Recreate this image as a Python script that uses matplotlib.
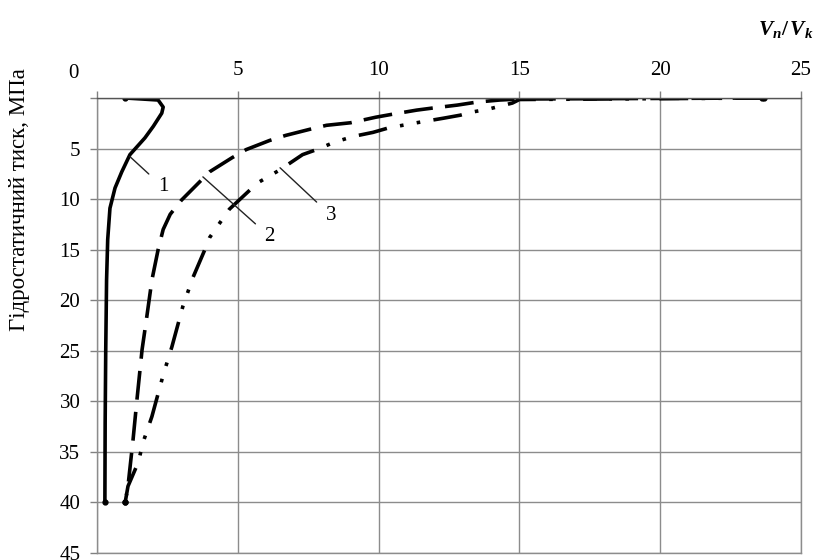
import matplotlib
matplotlib.use('Agg')
from matplotlib import pyplot as plt

plt.rcParams['font.family'] = ['Liberation Serif', 'DejaVu Serif']
plt.rcParams['mathtext.fontset'] = 'custom'
plt.rcParams['mathtext.it'] = 'Liberation Serif:italic:bold'
plt.rcParams['mathtext.rm'] = 'Liberation Serif:bold'

# curve 1 (solid)
v1 = [1.0, 1.6, 2.17, 2.35, 2.3, 2.0, 1.7, 1.17, 0.88, 0.64, 0.46, 0.38, 0.34, 0.31, 0.29, 0.28]
p1 = [0.0, 0.1, 0.2, 0.9, 1.5, 2.8, 3.95, 5.6, 7.3, 8.9, 10.9, 14, 18, 25, 32, 40]

# curve 2 (dashed)
v2 = [23.6, 15.0, 14.3, 13.5, 12.8, 11.9, 11.35, 10.5, 9.9, 9.0, 8.15, 7.55, 6.7, 6.13,
      5.3, 4.8, 4.0, 3.0, 2.6, 2.35, 2.17, 1.95, 1.77, 1.6, 1.42, 1.28, 1.1, 1.0]
p2 = [0.0, 0.1, 0.2, 0.4, 0.7, 1.0, 1.2, 1.6, 1.9, 2.45, 2.7, 3.1, 3.7, 4.2,
      5.1, 5.9, 7.3, 10.1, 11.5, 13, 15, 18, 21.6, 24.9, 29.8, 33.8, 38.4, 40]

# curve 3 (dash-dot-dot)
v3 = [23.7, 15.0, 14.75, 13.9, 13.3, 12.9, 12.3, 11.45, 10.85, 10.3, 9.8, 9.1, 8.4, 7.9,
      7.3, 6.5, 5.7, 4.7, 4.0, 3.83, 3.4, 3.05, 2.66, 2.35, 1.95, 1.63, 1.47, 1.1, 1.0]
p3 = [0.0, 0.15, 0.5, 1.1, 1.4, 1.7, 2.0, 2.4, 2.7, 3.0, 3.4, 3.8, 4.4, 5.0,
      5.6, 7.1, 8.4, 11, 13.8, 15, 17.8, 20.6, 24.6, 27.4, 31.5, 34.1, 36, 38.4, 40]

# curve labels: text position and leader start on the curve
labels = ['1', '2', '3']
label_xy = [(2.34, 8.8), (6.13, 13.7), (8.3, 11.6)]
leader_xy = [(1.17, 5.8), (3.76, 7.8), (6.5, 6.9)]

x_ticks = [0, 5, 10, 15, 20, 25]
y_ticks = [0, 5, 10, 15, 20, 25, 30, 35, 40, 45]

fig = plt.figure(figsize=(8.18, 5.6), dpi=100)
ax = fig.add_axes([97 / 818, 7 / 560, 704 / 818, 455 / 560])

lw = 2.6
ax.plot(v1, p1, color='black', lw=lw, solid_capstyle='round',
        marker='o', ms=3.5, markevery=[0, -1])
ax.plot(v2, p2, color='black', lw=lw, linestyle=(0, (8, 3.4)), dash_capstyle='butt',
        marker='o', ms=3.5, markevery=[0, -1])
ax.plot(v3, p3, color='black', lw=lw, linestyle=(0, (8, 3.7, 1, 3.7, 1, 3.7)),
        dash_capstyle='butt', marker='o', ms=3.5, markevery=[0, -1])

for lab, txy, lxy in zip(labels, label_xy, leader_xy):
    ax.annotate(lab, xy=lxy, xytext=txy, fontsize=15, ha='center', va='center',
                arrowprops=dict(arrowstyle='-', color='#222222', lw=1.0,
                                shrinkA=6, shrinkB=0))

ax.set_xlim(0, 25)
ax.set_ylim(45, 0)
ax.xaxis.tick_top()
ax.set_xticks(x_ticks)
ax.set_xticklabels([''] + [str(t) for t in x_ticks[1:]])
ax.set_yticks(y_ticks)
ax.set_yticklabels([''] + [str(t) for t in y_ticks[1:]])
ax.tick_params(axis='x', length=5, width=1, color='#808080', pad=8, labelsize=15)
ax.tick_params(axis='y', length=5, width=1, color='#808080', pad=7, labelsize=15)
ax.grid(True, color='#8c8c8c', lw=1.0)
ax.set_axisbelow(True)
for s in ax.spines.values():
    s.set_color('#8c8c8c')
    s.set_linewidth(1.0)
ax.spines['top'].set_color('#555555')

fig.text(73 / 818, 1 - 73 / 560, '0', fontsize=15, ha='center', va='center')
fig.text(20 / 818, 1 - 200 / 560, 'Гідростатичний тиск, МПа', fontsize=16.5,
         rotation=90, ha='center', va='center')
fig.text(786 / 818, 1 - 30 / 560, r'$V_n/\,V_k$', fontsize=15.5, ha='center', va='center')

fig.savefig('out.png', dpi=100)
